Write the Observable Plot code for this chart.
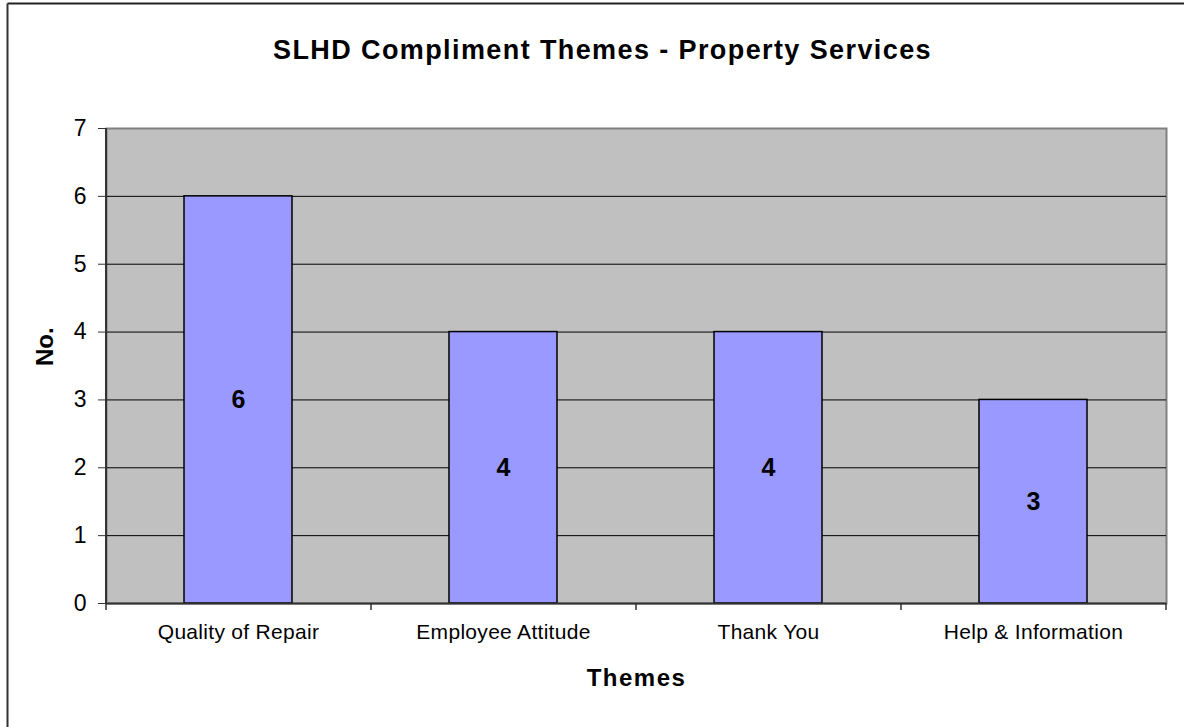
<!DOCTYPE html>
<html>
<head>
<meta charset="utf-8">
<script src="https://cdn.jsdelivr.net/npm/d3@7"></script>
<script src="https://cdn.jsdelivr.net/npm/@observablehq/plot@0.6"></script>
<style>
  html, body { margin: 0; padding: 0; background: #fff; }
  #chart { position: relative; width: 1184px; height: 727px; }
  #chart svg { font-family: Arial, "Liberation Sans", sans-serif; }
</style>
</head>
<body>
<div id="chart"></div>
<script>
const categories = ["Quality of Repair", "Employee Attitude", "Thank You", "Help & Information"];
const counts = [6, 4, 4, 3];
const yTicks = [0, 1, 2, 3, 4, 5, 6, 7];
const gridValues = [1, 2, 3, 4, 5, 6];
const title = "SLHD Compliment Themes - Property Services";
const xLabel = "Themes";
const yLabel = "No.";

const data = categories.map((c, i) => ({theme: c, n: counts[i]}));

const W = 1184, H = 727;
const mL = 106, mR = 18, mT = 128, mB = 124;
const step = (W - mL - mR) / categories.length;

const chart = Plot.plot({
  width: W,
  height: H,
  marginLeft: mL,
  marginRight: mR,
  marginTop: mT,
  marginBottom: mB,
  style: {fontFamily: "Arial, 'Liberation Sans', sans-serif", color: "#000", background: "#fff", overflow: "visible"},
  x: {domain: categories, paddingInner: 0.592, paddingOuter: 0.296, label: null},
  y: {domain: [0, 7], label: null},
  marks: [
    Plot.frame({fill: "#C0C0C0", stroke: "#808080", strokeWidth: 2}),
    Plot.ruleY(gridValues, {stroke: "#000", strokeWidth: 1}),
    Plot.barY(data, {x: "theme", y: "n", fill: "#9999FF", stroke: "#000", strokeWidth: 1.5}),
    Plot.text(data, {x: "theme", y: d => d.n / 2, text: d => String(d.n), fontSize: 25, fontWeight: "bold", fill: "#000"}),
    Plot.ruleY([0], {stroke: "#333", strokeWidth: 2}),
    Plot.ruleX([categories[0]], {dx: -step / 2, stroke: "#333", strokeWidth: 2}),
    Plot.ruleX(categories, {x: d => d, dx: -step / 2, y1: 0, y2: 0, insetBottom: -7, stroke: "#333", strokeWidth: 1.5}),
    Plot.ruleX([categories[categories.length - 1]], {dx: step / 2, y1: 0, y2: 0, insetBottom: -7, stroke: "#333", strokeWidth: 1.5}),
    Plot.axisY({ticks: yTicks, tickSize: 8, tickPadding: 12, fontSize: 23, tickFormat: d => String(d), stroke: "#333", label: null}),
    Plot.axisX({tickSize: 0, tickPadding: 21, fontSize: 21, label: null}),
    Plot.text([title], {frameAnchor: "top", lineAnchor: "middle", dx: -34, dy: -78, fontSize: 27, fontWeight: "bold", fill: "#000"}),
    Plot.text([xLabel], {frameAnchor: "bottom", lineAnchor: "middle", dy: 75, fontSize: 24, fontWeight: "bold", fill: "#000"}),
    Plot.text([yLabel], {frameAnchor: "left", lineAnchor: "middle", dx: -61, rotate: -90, fontSize: 24, fontWeight: "bold", fill: "#000"})
  ]
});

document.getElementById("chart").appendChild(chart);

const svg = d3.select(chart);
// the reference renders text slightly wider; mimic with letter spacing
const spacing = new Map([[title, "1.4px"], [xLabel, "1.5px"]]);
categories.forEach(c => spacing.set(c, "0.3px"));
svg.selectAll("text, tspan").each(function () {
  const s = spacing.get(this.textContent);
  if (s && this.childElementCount === 0) d3.select(this).style("letter-spacing", s);
});

// outer chart border (top and left edges visible in reference)
svg.append("line").attr("x1", 7.5).attr("x2", W).attr("y1", 3.5).attr("y2", 3.5).attr("stroke", "#222").attr("stroke-width", 2);
svg.append("line").attr("x1", 7.5).attr("x2", 7.5).attr("y1", 3.5).attr("y2", H).attr("stroke", "#333").attr("stroke-width", 2);
</script>
</body>
</html>
